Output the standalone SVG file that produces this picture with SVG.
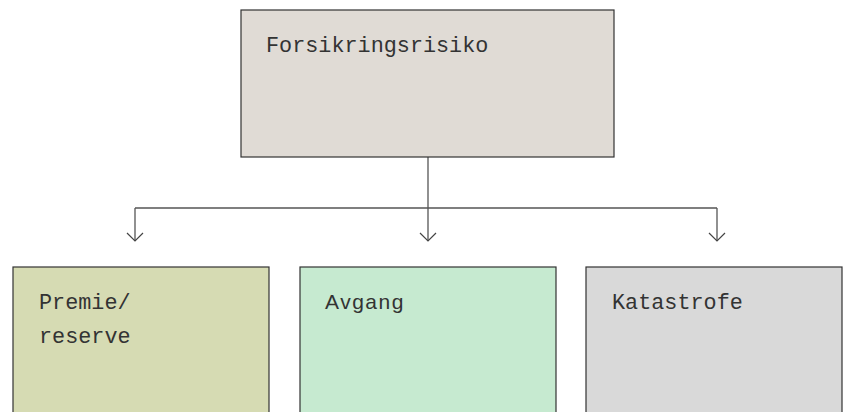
<svg xmlns="http://www.w3.org/2000/svg" width="845" height="412" viewBox="0 0 845 412">
<style>
.box{stroke:#333;stroke-width:1.2}
.t{font-family:"Liberation Mono","DejaVu Sans Mono",monospace;font-size:21.8px;fill:#333}
.ts{font-family:"Liberation Sans",Arial,sans-serif;font-size:21px;letter-spacing:1.5px;fill:#333}
.c{fill:none;stroke:#555;stroke-width:1.3}
</style>
<defs>
<marker id="chev" viewBox="-10 -10 20 20" refX="8" refY="0" markerWidth="20" markerHeight="20" markerUnits="userSpaceOnUse" orient="auto">
<path d="M0,-8 L8,0 L0,8" fill="none" stroke="#444" stroke-width="1.2"/>
</marker>
</defs>
<rect width="845" height="412" fill="#fff"/>
<g id="connectors">
<line class="c" x1="428" y1="157" x2="428" y2="208"/>
<line class="c" x1="135" y1="208" x2="717" y2="208"/>
<path class="c" d="M135,208 V241" marker-end="url(#chev)"/>
<path class="c" d="M428,208 V241" marker-end="url(#chev)"/>
<path class="c" d="M717,208 V241" marker-end="url(#chev)"/>
</g>
<g id="forsikringsrisiko">
<rect class="box" x="241" y="10" width="373" height="147" fill="#e0dbd5"/>
<text class="t" x="266" y="52">Forsikringsrisiko</text>
</g>
<g id="premie">
<rect class="box" x="13" y="267" width="256" height="160" fill="#d6dbb3"/>
<text class="t" x="39" y="309">Premie/</text>
<text class="t" x="39" y="343">reserve</text>
</g>
<g id="avgang">
<rect class="box" x="300" y="267" width="256" height="160" fill="#c6ead0"/>
<text class="ts" x="325" y="309">Avgang</text>
</g>
<g id="katastrofe">
<rect class="box" x="586" y="267" width="256" height="160" fill="#d9d9d9"/>
<text class="t" x="612" y="309">Katastrofe</text>
</g>
</svg>
